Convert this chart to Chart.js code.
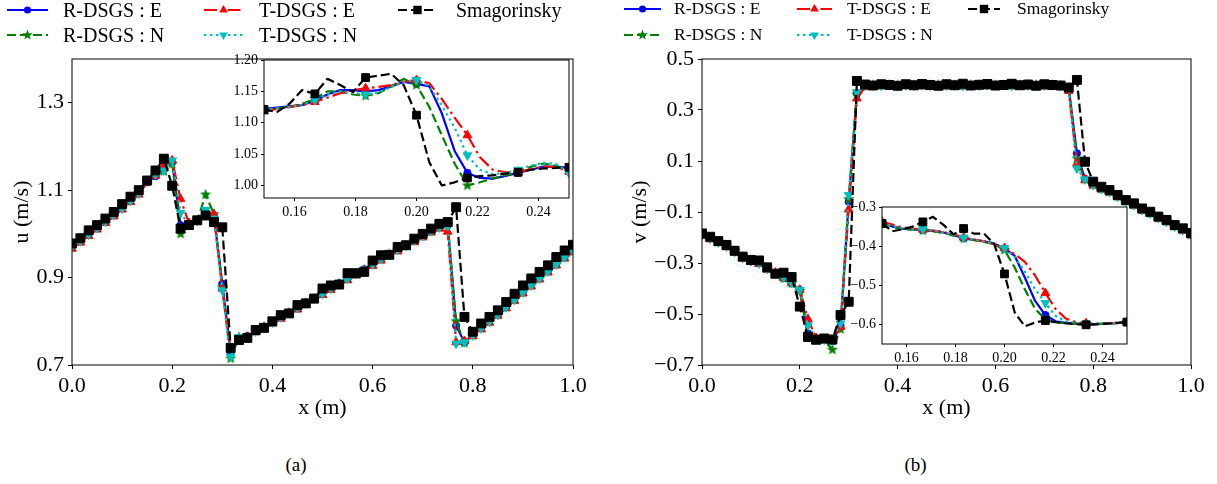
<!DOCTYPE html>
<html>
<head>
<meta charset="utf-8">
<script src="https://cdn.jsdelivr.net/npm/chart.js@4.4.1/dist/chart.umd.min.js"></script>
<style>
html, body { margin: 0; padding: 0; background: #fff; }
#page { position: relative; width: 1217px; height: 484px; overflow: hidden; font-family: 'Liberation Serif', 'Times New Roman', serif; color: #000; }
canvas { position: absolute; }
.txt { position: absolute; white-space: nowrap; line-height: 1; }
</style>
</head>
<body>
<div id="page">
  <canvas id="uMain" width="600" height="430" style="left:0px;top:0px"></canvas>
  <canvas id="uInset" width="370" height="173" style="left:214px;top:50px"></canvas>
  <canvas id="vMain" width="597" height="430" style="left:620px;top:0px"></canvas>
  <canvas id="vInset" width="300" height="172" style="left:842px;top:197px"></canvas>
</div>
<script>
// sample positions along x (m)
const xMain = [0, 0.0167, 0.0333, 0.05, 0.0667, 0.0833, 0.1, 0.1167, 0.1333, 0.15, 0.1667, 0.1833, 0.2, 0.2167, 0.2333, 0.25,
  0.2667, 0.2833, 0.3, 0.3167, 0.3333, 0.35, 0.3667, 0.3833, 0.4, 0.4167, 0.4333, 0.45, 0.4667, 0.4833, 0.5, 0.5167, 0.5333,
  0.55, 0.5667, 0.5833, 0.6, 0.6167, 0.6333, 0.65, 0.6667, 0.6833, 0.7, 0.7167, 0.7333, 0.75, 0.7667, 0.7833, 0.8, 0.8167,
  0.8333, 0.85, 0.8667, 0.8833, 0.9, 0.9167, 0.9333, 0.95, 0.9667, 0.9833, 1.0];
const xInset = [0.15, 0.1542, 0.1583, 0.1625, 0.1667, 0.1708, 0.175, 0.1792, 0.1833, 0.1875, 0.1917, 0.1958, 0.2,
  0.2042, 0.2083, 0.2125, 0.2167, 0.2208, 0.225, 0.2292, 0.2333, 0.2375, 0.2417, 0.2458, 0.25];

// (a) u (m/s)
const uRE = [0.972, 0.985, 1.000, 1.015, 1.030, 1.045, 1.060, 1.077, 1.094, 1.118, 1.132, 1.150, 1.164, 1.020, 1.024, 1.032,
  1.050, 1.040, 0.886, 0.728, 0.762, 0.766, 0.778, 0.788, 0.798, 0.810, 0.820, 0.831, 0.842, 0.852, 0.864, 0.876, 0.887,
  0.898, 0.909, 0.919, 0.931, 0.943, 0.954, 0.964, 0.974, 0.985, 0.996, 1.007, 1.016, 1.020, 0.790, 0.752, 0.770, 0.786,
  0.801, 0.817, 0.834, 0.851, 0.868, 0.884, 0.900, 0.916, 0.932, 0.948, 0.963];
const uRN = [0.970, 0.984, 0.999, 1.014, 1.029, 1.044, 1.059, 1.076, 1.093, 1.120, 1.138, 1.143, 1.160, 1.000, 1.021, 1.030,
  1.090, 1.045, 0.878, 0.715, 0.763, 0.765, 0.777, 0.787, 0.797, 0.809, 0.819, 0.830, 0.841, 0.851, 0.863, 0.875, 0.886,
  0.897, 0.908, 0.918, 0.930, 0.942, 0.953, 0.963, 0.973, 0.984, 0.995, 1.006, 1.015, 1.022, 0.800, 0.750, 0.768, 0.784,
  0.799, 0.815, 0.832, 0.849, 0.866, 0.882, 0.898, 0.914, 0.930, 0.946, 0.961];
const uTE = [0.966, 0.980, 0.995, 1.010, 1.025, 1.040, 1.056, 1.073, 1.090, 1.118, 1.133, 1.155, 1.168, 1.080, 1.025, 1.030,
  1.046, 1.045, 0.875, 0.735, 0.760, 0.764, 0.775, 0.785, 0.795, 0.806, 0.816, 0.827, 0.838, 0.848, 0.860, 0.872, 0.883,
  0.894, 0.905, 0.915, 0.927, 0.939, 0.950, 0.960, 0.970, 0.981, 0.992, 1.003, 1.012, 1.005, 0.752, 0.755, 0.766, 0.782,
  0.797, 0.813, 0.830, 0.847, 0.864, 0.880, 0.896, 0.912, 0.928, 0.944, 0.958];
const uTN = [0.970, 0.983, 0.998, 1.013, 1.028, 1.043, 1.058, 1.075, 1.092, 1.121, 1.136, 1.145, 1.168, 1.048, 1.022, 1.030,
  1.055, 1.035, 0.871, 0.719, 0.764, 0.765, 0.777, 0.787, 0.797, 0.809, 0.819, 0.830, 0.841, 0.851, 0.863, 0.875, 0.886,
  0.897, 0.908, 0.918, 0.930, 0.942, 0.953, 0.963, 0.973, 0.984, 0.995, 1.006, 1.015, 1.018, 0.749, 0.752, 0.768, 0.784,
  0.799, 0.815, 0.832, 0.849, 0.866, 0.882, 0.898, 0.914, 0.930, 0.946, 0.961];
const uSmag = [0.978, 0.990, 1.008, 1.020, 1.035, 1.050, 1.068, 1.085, 1.100, 1.122, 1.145, 1.172, 1.110, 1.012, 1.020, 1.031,
  1.042, 1.027, 1.015, 0.739, 0.757, 0.762, 0.780, 0.785, 0.800, 0.814, 0.818, 0.837, 0.841, 0.852, 0.875, 0.882, 0.884,
  0.910, 0.910, 0.913, 0.939, 0.951, 0.952, 0.970, 0.974, 0.989, 1.000, 1.012, 1.023, 1.027, 1.061, 0.810, 0.776, 0.795,
  0.810, 0.825, 0.844, 0.863, 0.882, 0.898, 0.913, 0.928, 0.947, 0.962, 0.975];

// (a) zoom window
const uInRE = [1.122, 1.124, 1.126, 1.128, 1.135, 1.145, 1.152, 1.152, 1.150, 1.152, 1.158, 1.165, 1.162,
  1.158, 1.115, 1.055, 1.020, 1.012, 1.011, 1.015, 1.020, 1.025, 1.030, 1.030, 1.028];
const uInRN = [1.120, 1.123, 1.125, 1.130, 1.138, 1.150, 1.150, 1.145, 1.143, 1.147, 1.158, 1.170, 1.160,
  1.125, 1.080, 1.035, 1.000, 1.005, 1.011, 1.016, 1.021, 1.030, 1.035, 1.031, 1.025];
const uInTE = [1.118, 1.122, 1.125, 1.128, 1.133, 1.140, 1.147, 1.152, 1.155, 1.157, 1.160, 1.165, 1.168,
  1.163, 1.138, 1.108, 1.080, 1.045, 1.025, 1.021, 1.021, 1.026, 1.030, 1.029, 1.022];
const uInTN = [1.121, 1.123, 1.125, 1.128, 1.136, 1.145, 1.150, 1.148, 1.145, 1.148, 1.157, 1.165, 1.168,
  1.158, 1.128, 1.092, 1.048, 1.025, 1.018, 1.020, 1.025, 1.032, 1.036, 1.034, 1.020];
const uInSmag = [1.121, 1.117, 1.130, 1.152, 1.146, 1.170, 1.160, 1.149, 1.172, 1.175, 1.178, 1.160, 1.112,
  1.037, 1.000, 1.005, 1.012, 1.015, 1.016, 1.019, 1.021, 1.025, 1.027, 1.028, 1.029];

// (b) v (m/s)
const vRE = [-0.190, -0.203, -0.218, -0.234, -0.255, -0.278, -0.292, -0.300, -0.322, -0.342, -0.359, -0.380, -0.406, -0.576,
  -0.596, -0.600, -0.606, -0.545, -0.060, 0.365, 0.394, 0.396, 0.397, 0.395, 0.397, 0.396, 0.398, 0.396, 0.397, 0.395, 0.397,
  0.396, 0.398, 0.396, 0.397, 0.395, 0.397, 0.396, 0.398, 0.396, 0.397, 0.395, 0.397, 0.396, 0.394, 0.385, 0.130, 0.030,
  0.008, -0.008, -0.020, -0.038, -0.057, -0.071, -0.090, -0.104, -0.122, -0.136, -0.155, -0.169, -0.187];
const vRN = [-0.188, -0.201, -0.216, -0.232, -0.253, -0.276, -0.290, -0.298, -0.320, -0.342, -0.360, -0.380, -0.410, -0.588,
  -0.598, -0.602, -0.640, -0.560, -0.050, 0.360, 0.396, 0.398, 0.397, 0.399, 0.397, 0.398, 0.396, 0.398, 0.397, 0.399, 0.397,
  0.398, 0.396, 0.398, 0.397, 0.399, 0.397, 0.398, 0.396, 0.398, 0.397, 0.399, 0.397, 0.398, 0.396, 0.388, 0.110, 0.028,
  0.007, -0.009, -0.021, -0.039, -0.058, -0.072, -0.091, -0.105, -0.123, -0.137, -0.156, -0.170, -0.188];
const vTE = [-0.194, -0.207, -0.222, -0.238, -0.259, -0.282, -0.296, -0.304, -0.326, -0.338, -0.358, -0.378, -0.405, -0.520,
  -0.594, -0.598, -0.604, -0.550, -0.090, 0.345, 0.390, 0.392, 0.394, 0.393, 0.392, 0.394, 0.393, 0.392, 0.394, 0.393, 0.392,
  0.394, 0.393, 0.392, 0.394, 0.393, 0.392, 0.394, 0.393, 0.392, 0.394, 0.393, 0.392, 0.393, 0.390, 0.375, 0.090, 0.025,
  0.004, -0.012, -0.024, -0.042, -0.061, -0.075, -0.094, -0.108, -0.126, -0.140, -0.159, -0.173, -0.192];
const vTN = [-0.191, -0.204, -0.219, -0.235, -0.256, -0.279, -0.293, -0.301, -0.323, -0.342, -0.357, -0.378, -0.405, -0.545,
  -0.596, -0.600, -0.605, -0.537, -0.033, 0.370, 0.395, 0.397, 0.396, 0.398, 0.396, 0.397, 0.395, 0.397, 0.396, 0.398, 0.396,
  0.397, 0.395, 0.397, 0.396, 0.398, 0.396, 0.397, 0.395, 0.397, 0.396, 0.398, 0.396, 0.397, 0.395, 0.383, 0.071, 0.028,
  0.006, -0.010, -0.022, -0.040, -0.059, -0.073, -0.092, -0.106, -0.124, -0.138, -0.157, -0.171, -0.189];
const vSmag = [-0.184, -0.197, -0.214, -0.229, -0.252, -0.275, -0.288, -0.290, -0.317, -0.342, -0.338, -0.355, -0.471, -0.590,
  -0.601, -0.596, -0.600, -0.504, -0.452, 0.414, 0.400, 0.396, 0.401, 0.398, 0.395, 0.401, 0.397, 0.402, 0.398, 0.395, 0.401,
  0.397, 0.403, 0.396, 0.399, 0.402, 0.396, 0.398, 0.403, 0.397, 0.400, 0.395, 0.401, 0.398, 0.396, 0.388, 0.418, 0.097,
  0.019, -0.001, -0.014, -0.033, -0.053, -0.066, -0.086, -0.099, -0.118, -0.131, -0.151, -0.164, -0.182];

// (b) zoom window
const vInRE = [-0.342, -0.350, -0.355, -0.357, -0.359, -0.361, -0.365, -0.372, -0.380, -0.384, -0.388, -0.393, -0.406,
  -0.425, -0.480, -0.540, -0.576, -0.592, -0.596, -0.598, -0.599, -0.599, -0.598, -0.597, -0.594];
const vInRN = [-0.342, -0.350, -0.356, -0.358, -0.360, -0.362, -0.366, -0.373, -0.380, -0.385, -0.389, -0.395, -0.410,
  -0.455, -0.510, -0.560, -0.588, -0.595, -0.597, -0.598, -0.599, -0.599, -0.598, -0.597, -0.594];
const vInTE = [-0.338, -0.345, -0.352, -0.355, -0.358, -0.360, -0.364, -0.370, -0.378, -0.383, -0.388, -0.395, -0.405,
  -0.420, -0.440, -0.475, -0.520, -0.560, -0.585, -0.594, -0.597, -0.598, -0.597, -0.596, -0.594];
const vInTN = [-0.342, -0.348, -0.354, -0.357, -0.357, -0.360, -0.365, -0.372, -0.378, -0.384, -0.388, -0.394, -0.405,
  -0.428, -0.465, -0.510, -0.545, -0.578, -0.592, -0.596, -0.598, -0.598, -0.597, -0.596, -0.594];
const vInSmag = [-0.342, -0.362, -0.357, -0.350, -0.338, -0.325, -0.345, -0.370, -0.355, -0.368, -0.368, -0.395, -0.471,
  -0.570, -0.605, -0.595, -0.590, -0.594, -0.597, -0.599, -0.601, -0.600, -0.598, -0.596, -0.594];

// tick labels
const xTicks = [0.0, 0.2, 0.4, 0.6, 0.8, 1.0];
const uTicks = [0.7, 0.9, 1.1, 1.3];
const vTicks = [-0.7, -0.5, -0.3, -0.1, 0.1, 0.3, 0.5];
const xInTicks = [0.16, 0.18, 0.20, 0.22, 0.24];
const uInTicks = [1.00, 1.05, 1.10, 1.15, 1.20];
const vInTicks = [-0.6, -0.5, -0.4, -0.3];

const names = { RE: 'R-DSGS : E', RN: 'R-DSGS : N', TE: 'T-DSGS : E', TN: 'T-DSGS : N', SM: 'Smagorinsky' };

const FONT = "'Liberation Serif', 'Times New Roman', serif";

function drawStar(g, cx, cy, R, color) {
  g.beginPath();
  for (let i = 0; i < 10; i++) {
    const r = i % 2 ? R * 0.42 : R;
    const a = -Math.PI / 2 + i * Math.PI / 5;
    g.lineTo(cx + r * Math.cos(a), cy + r * Math.sin(a));
  }
  g.closePath();
  g.fillStyle = color;
  g.fill();
}
function starImage(color, size) {
  const c = document.createElement('canvas');
  c.width = c.height = size;
  drawStar(c.getContext('2d'), size / 2, size / 2, size / 2, color);
  return c;
}

const STY = {
  RE: { color: '#0000ff', dash: [], marker: 'circle', rot: 0, r: 3.6, rIn: 3.6, order: 4 },
  RN: { color: '#008000', dash: [9, 4], marker: starImage('#008000', 12), rot: 0, r: 5, rIn: 5, order: 3 },
  TE: { color: '#ff0000', dash: [13, 4, 2.5, 4], marker: 'triangle', rot: 0, r: 5, rIn: 5, order: 2 },
  TN: { color: '#00bfbf', dash: [2.5, 3.5], marker: 'triangle', rot: 180, r: 5, rIn: 5, order: 1 },
  SM: { color: '#000000', dash: [9, 4], marker: 'rect', rot: 0, r: 6.3, rIn: 5.5, order: 0 }
};

function ds(key, xs, ys, inset) {
  const s = STY[key];
  const r = inset ? s.rIn : s.r;
  return {
    label: names[key],
    data: xs.map((x, i) => ({ x: x, y: ys[i] })),
    borderColor: s.color,
    backgroundColor: s.color,
    borderWidth: 2.2,
    borderDash: s.dash,
    borderJoinStyle: 'round',
    pointStyle: s.marker,
    pointRotation: s.rot,
    pointRadius: inset ? (c => c.dataIndex % 4 === 0 ? r : 0) : r,
    pointBorderWidth: 1,
    pointBorderColor: s.color,
    pointBackgroundColor: s.color,
    order: s.order,
    tension: 0,
    fill: false
  };
}

const fmt = (v, d) => v.toFixed(d).replace('-', '\u2212');

// frame around the plotting area, drawn over the lines like matplotlib spines
const framePlugin = {
  id: 'frame',
  afterDatasetsDraw(chart) {
    const a = chart.chartArea, g = chart.ctx;
    g.save();
    g.strokeStyle = '#000';
    g.lineWidth = 1;
    g.strokeRect(a.left, a.top, a.right - a.left, a.bottom - a.top);
    g.restore();
  }
};
const whiteArea = {
  id: 'whiteArea',
  beforeDraw(chart) {
    const a = chart.chartArea, g = chart.ctx;
    g.save();
    g.fillStyle = '#fff';
    g.fillRect(a.left, a.top, a.right - a.left, a.bottom - a.top);
    g.restore();
  }
};

function makeChart(id, p) {
  const scale = (ticks, dec, min, max, horiz) => ({
    type: 'linear',
    min: min,
    max: max,
    afterBuildTicks: s => { s.ticks = ticks.map(v => ({ value: v })); },
    afterFit: s => {
      if (horiz) { s.height = p.xH; s.paddingLeft = 0; s.paddingRight = 0; }
      else { s.width = p.yW; s.paddingTop = 0; s.paddingBottom = 0; }
    },
    ticks: {
      autoSkip: false, maxRotation: 0, padding: p.tp, color: '#000',
      font: { family: FONT, size: p.fs },
      callback: v => fmt(v, dec)
    },
    grid: { drawOnChartArea: false, tickLength: p.tl, color: '#000', lineWidth: 1 },
    border: { display: false },
    title: horiz
      ? { display: !!p.xTitle, text: p.xTitle, color: '#000', font: { family: FONT, size: 22, lineHeight: 1.2 }, padding: { top: 0, bottom: p.xTitlePad } }
      : { display: !!p.yTitle, text: p.yTitle, color: '#000', font: { family: FONT, size: 22, lineHeight: 1.2 }, padding: { top: p.yTitlePad, bottom: 0 } }
  });
  return new Chart(document.getElementById(id), {
    type: 'line',
    data: { datasets: p.datasets },
    options: {
      responsive: false,
      animation: false,
      devicePixelRatio: 1,
      layout: { padding: p.pad },
      plugins: { legend: { display: false }, tooltip: { enabled: false } },
      scales: {
        x: scale(p.xTicks, p.xDec, p.xMin, p.xMax, true),
        y: scale(p.yTicks, p.yDec, p.yMin, p.yMax, false)
      }
    },
    plugins: p.inset ? [whiteArea, framePlugin] : [framePlugin]
  });
}

const keys = ['RE', 'RN', 'TE', 'TN', 'SM'];
const uMainSets = [uRE, uRN, uTE, uTN, uSmag];
const uInSets = [uInRE, uInRN, uInTE, uInTN, uInSmag];
const vMainSets = [vRE, vRN, vTE, vTN, vSmag];
const vInSets = [vInRE, vInRN, vInTE, vInTN, vInSmag];

makeChart('uMain', {
  datasets: keys.map((k, i) => ds(k, xMain, uMainSets[i], false)),
  pad: { top: 59, left: 0, right: 27, bottom: 0 }, yW: 72, xH: 65, fs: 22, tl: 4, tp: 4,
  xTicks: xTicks, xDec: 1, xMin: 0, xMax: 1, yTicks: uTicks, yDec: 1, yMin: 0.7, yMax: 1.4,
  xTitle: 'x (m)', xTitlePad: 9, yTitle: 'u (m/s)', yTitlePad: 9
});
makeChart('uInset', {
  inset: true,
  datasets: keys.map((k, i) => ds(k, xInset, uInSets[i], true)),
  pad: { top: 10, left: 0, right: 15, bottom: 0 }, yW: 50, xH: 25, fs: 14, tl: 3, tp: 3,
  xTicks: xInTicks, xDec: 2, xMin: 0.15, xMax: 0.25, yTicks: uInTicks, yDec: 2, yMin: 0.98, yMax: 1.20
});
makeChart('vMain', {
  datasets: keys.map((k, i) => ds(k, xMain, vMainSets[i], false)),
  pad: { top: 59, left: 0, right: 26, bottom: 0 }, yW: 82, xH: 65, fs: 22, tl: 4, tp: 4,
  xTicks: xTicks, xDec: 1, xMin: 0, xMax: 1, yTicks: vTicks, yDec: 1, yMin: -0.7, yMax: 0.5,
  xTitle: 'x (m)', xTitlePad: 9, yTitle: 'v (m/s)', yTitlePad: 7
});
makeChart('vInset', {
  inset: true,
  datasets: keys.map((k, i) => ds(k, xInset, vInSets[i], true)),
  pad: { top: 10, left: 0, right: 15, bottom: 0 }, yW: 40, xH: 25, fs: 14, tl: 3, tp: 3,
  xTicks: xInTicks, xDec: 2, xMin: 0.15, xMax: 0.25, yTicks: vInTicks, yDec: 1, yMin: -0.65, yMax: -0.3
});

// legends (three columns, filled column by column)
const page = document.getElementById('page');
function drawMarker(g, key, x, y) {
  const s = STY[key];
  g.fillStyle = s.color;
  g.beginPath();
  if (key === 'RE') { g.arc(x, y, 3.6, 0, Math.PI * 2); g.fill(); }
  else if (key === 'SM') { g.fillRect(x - 4.2, y - 4.2, 8.4, 8.4); }
  else if (key === 'RN') { drawStar(g, x, y, 5.5, s.color); }
  else {
    const d = key === 'TN' ? -1 : 1, r = 5;
    g.moveTo(x, y - d * r);
    g.lineTo(x + r * 0.866, y + d * r * 0.5);
    g.lineTo(x - r * 0.866, y + d * r * 0.5);
    g.closePath(); g.fill();
  }
}
function addText(str, x, cy, size, center) {
  const d = document.createElement('div');
  d.className = 'txt';
  d.textContent = str;
  d.style.fontSize = size + 'px';
  d.style.left = x + 'px';
  d.style.top = (cy - 0.51 * size) + 'px';
  if (center) d.style.transform = 'translateX(-50%)';
  page.appendChild(d);
}
const legendCols = [['RE', 'RN'], ['TE', 'TN'], ['SM']];
const legendBoxes = [
  { size: 20, rows: [10, 35], cols: [[7, 48, 63], [204, 243, 259], [398, 437, 456]] },
  { size: 17.5, rows: [9, 35], cols: [[624, 661, 674], [797, 832, 847], [968, 1000, 1017]] }
];
legendBoxes.forEach(box => {
  legendCols.forEach((col, ci) => {
    col.forEach((key, ri) => {
      const [x0, x1, tx] = box.cols[ci];
      const cy = box.rows[ri];
      const c = document.createElement('canvas');
      c.width = x1 - x0; c.height = 16;
      c.style.left = x0 + 'px'; c.style.top = (cy - 8) + 'px';
      page.appendChild(c);
      const g = c.getContext('2d');
      g.strokeStyle = STY[key].color;
      g.lineWidth = 2.2;
      g.setLineDash(STY[key].dash);
      g.beginPath(); g.moveTo(0, 8); g.lineTo(c.width, 8); g.stroke();
      g.setLineDash([]);
      drawMarker(g, key, c.width / 2, 8);
      addText(names[key], tx, cy, box.size, false);
    });
  });
});

addText('(a)', 296, 465, 19, true);
addText('(b)', 915.5, 465, 19, true);
</script>
</body>
</html>
